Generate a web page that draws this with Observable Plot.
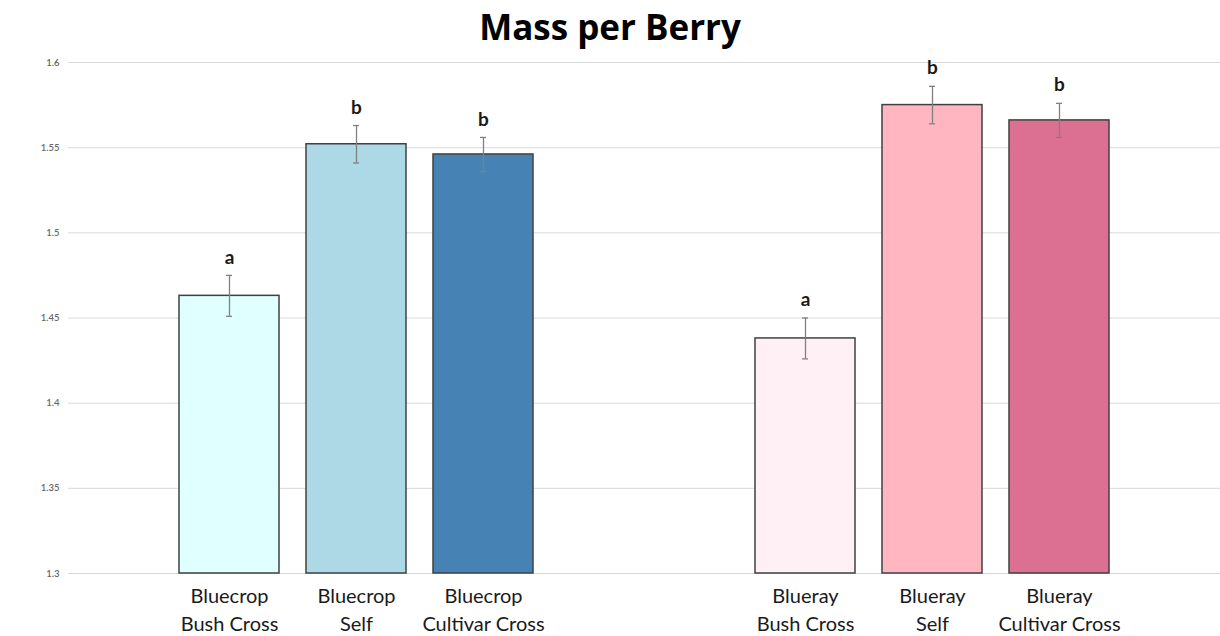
<!DOCTYPE html>
<html><head><meta charset="utf-8">
<script src="https://cdn.jsdelivr.net/npm/d3@7"></script>
<script src="https://cdn.jsdelivr.net/npm/@observablehq/plot@0.6"></script>
<style>
body{margin:0;background:#fff;width:1220px;height:636px;overflow:hidden;position:relative;font-family:Lato,sans-serif}
#title{position:absolute;top:0;left:0;width:1220px;text-align:center;font-family:"Open Sans",sans-serif;font-weight:bold;font-size:35px;line-height:54px;color:#000}
#ylab{position:absolute;left:22px;top:330px;transform:translate(-50%,-50%) rotate(-90deg);font-family:Lato,sans-serif;font-size:23px;color:#000;white-space:nowrap}
#chart{position:absolute;top:50px;left:0}
</style></head>
<body>
<div id="title">Mass per Berry</div>
<div id="ylab">Grams</div>
<div id="chart"></div>
<script>
const cultivars = ["Bluecrop", "Blueray"];
const treatments = ["Bush Cross", "Self", "Cultivar Cross"];
const bluecropMass = [1.463, 1.552, 1.546];
const bluerayMass = [1.438, 1.575, 1.566];
const bluecropErr = [0.012, 0.011, 0.010];
const bluerayErr = [0.012, 0.011, 0.010];
const bluecropLetters = ["a", "b", "b"];
const bluerayLetters = ["a", "b", "b"];
const bluecropColors = ["#e0ffff", "#add8e6", "#4682b4"];
const bluerayColors = ["#fff0f5", "#ffb6c1", "#db7093"];
const yTicks = [1.3, 1.35, 1.4, 1.45, 1.5, 1.55, 1.6];

const masses = [bluecropMass, bluerayMass];
const errs = [bluecropErr, bluerayErr];
const letters = [bluecropLetters, bluerayLetters];
const colors = [bluecropColors, bluerayColors];
const rows = cultivars.flatMap((c, i) => treatments.map((t, j) => ({
  cultivar: c, treatment: t, mass: masses[i][j], err: errs[i][j],
  letter: letters[i][j], color: colors[i][j]
})));
const base = yTicks[0];

const chart = Plot.plot({
  width: 1220,
  height: 586,
  marginLeft: 67,
  marginRight: 0,
  marginTop: 12,
  marginBottom: 63,
  style: {fontFamily: "Lato, sans-serif", background: "#fff"},
  fx: {domain: cultivars, padding: 0, axis: null},
  x: {domain: treatments, paddingInner: 0.21, paddingOuter: 0.857, axis: null},
  y: {domain: [yTicks[0], yTicks[yTicks.length - 1]]},
  color: {type: "identity"},
  marks: [
    Plot.gridY(yTicks, {stroke: "#d9d9d9", strokeOpacity: 1, strokeWidth: 1}),
    Plot.axisY(yTicks, {tickSize: 0, tickPadding: 9, fontSize: 9.5, fontWeight: 600, fill: "#666", label: null, tickFormat: d => String(d)}),
    Plot.barY(rows, {x: "treatment", fx: "cultivar", y1: () => base, y2: "mass", fill: "color", stroke: "#404040", strokeWidth: 1.5}),
    Plot.ruleX(rows, {x: "treatment", fx: "cultivar", y1: d => d.mass - d.err, y2: d => d.mass + d.err, stroke: "#808080", strokeWidth: 1.3}),
    Plot.tickY(rows, {x: "treatment", fx: "cultivar", y: d => d.mass + d.err, stroke: "#808080", strokeWidth: 1.3, insetLeft: 47, insetRight: 47}),
    Plot.tickY(rows, {x: "treatment", fx: "cultivar", y: d => d.mass - d.err, stroke: "#808080", strokeWidth: 1.3, insetLeft: 47, insetRight: 47}),
    Plot.text(rows, {x: "treatment", fx: "cultivar", y: d => d.mass + d.err, text: "letter", dy: -18, fontSize: 19, fontWeight: 700, fill: "#1a1a1a"}),
    Plot.text(rows, {x: "treatment", fx: "cultivar", frameAnchor: "bottom", lineAnchor: "top", dy: 10, lineHeight: 1.4, fontSize: 20, fill: "#1a1a1a", text: d => d.cultivar + "\n" + d.treatment})
  ]
});
document.getElementById("chart").appendChild(chart);
</script>
</body></html>
